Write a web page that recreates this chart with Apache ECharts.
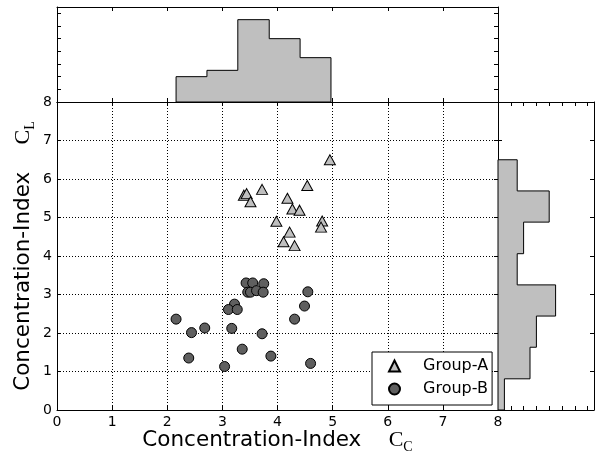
<!DOCTYPE html>
<html>
<head>
<meta charset="utf-8">
<script src="https://cdn.jsdelivr.net/npm/echarts@6/dist/echarts.min.js"></script>
<style>
  html, body { margin: 0; padding: 0; background: #fff; }
  #chart { width: 601px; height: 456px; }
</style>
</head>
<body>
<div id="chart"></div>
<script>
// scatter points [x, y]
const groupA = [
  [4.95, 6.50], [4.54, 5.83], [3.72, 5.73], [3.39, 5.58], [3.44, 5.62],
  [3.51, 5.41], [4.18, 5.50], [4.27, 5.22], [4.40, 5.19], [3.98, 4.90],
  [4.81, 4.91], [4.79, 4.75], [4.22, 4.62], [4.11, 4.37], [4.31, 4.27]
];
const groupB = [
  [3.43, 3.30], [3.55, 3.30], [3.75, 3.28], [3.46, 3.06], [3.51, 3.06],
  [3.62, 3.10], [3.74, 3.06], [4.55, 3.07], [4.49, 2.70], [4.31, 2.36],
  [4.60, 1.21], [3.88, 1.40], [3.72, 1.98], [3.36, 1.58], [3.04, 1.13],
  [3.17, 2.12], [3.22, 2.75], [3.11, 2.61], [3.27, 2.61], [2.68, 2.13],
  [2.44, 2.01], [2.16, 2.36], [2.39, 1.35]
];

// marginal histograms (bin edges + counts)
const topEdges = [2.16, 2.72, 3.28, 3.85, 4.41, 4.97];
const topCounts = [4, 5, 13, 10, 7];
const rightEdges = [0, 0.81, 1.63, 2.44, 3.25, 4.06, 4.88, 5.69, 6.50];
const rightCounts = [1, 5, 6, 9, 3, 4, 8, 3];

const seriesNames = ['Group-A', 'Group-B'];

// outline of a step histogram, in data coordinates
function stepOutline(edges, counts, horizontal) {
  const pts = [[edges[0], 0]];
  counts.forEach(function (c, i) {
    pts.push([edges[i], c]);
    pts.push([edges[i + 1], c]);
  });
  pts.push([edges[edges.length - 1], 0]);
  return horizontal ? pts.map(function (p) { return [p[1], p[0]]; }) : pts;
}

function histSeries(axisIdx, pts) {
  return {
    type: 'custom',
    xAxisIndex: axisIdx,
    yAxisIndex: axisIdx,
    data: [[0, 0]],
    silent: true,
    renderItem: function (params, api) {
      return {
        type: 'polygon',
        shape: { points: pts.map(function (p) { return api.coord(p); }) },
        style: { fill: '#bfbfbf', stroke: '#000', lineWidth: 1 }
      };
    }
  };
}

const FONT = 'DejaVu Sans';
const tickIn = { show: true, inside: true, length: 4, lineStyle: { color: '#000' } };
const line = { show: true, onZero: false, lineStyle: { color: '#000', width: 1 } };

function valAxis(grid, min, max, interval, pos, extra) {
  return Object.assign({
    type: 'value', gridIndex: grid, min: min, max: max, interval: interval,
    position: pos, axisLine: line, axisTick: tickIn,
    axisLabel: { show: false }, splitLine: { show: false }
  }, extra || {});
}

const nameRich = {
  m: { fontFamily: 'Liberation Serif', fontSize: 22, color: '#000', lineHeight: 28 },
  s: { fontFamily: 'Liberation Serif', fontSize: 14, color: '#000', lineHeight: 14, verticalAlign: 'bottom' }
};
const gridDots = { show: true, lineStyle: { color: '#000', type: [1, 2], width: 1 } };
const tickLabel = { show: true, color: '#000', fontFamily: FONT, fontSize: 14 };

const chart = echarts.init(document.getElementById('chart'));
chart.setOption({
  animation: false,
  backgroundColor: '#fff',
  grid: [
    { left: 57, top: 102, width: 441, height: 308, outerBoundsMode: 'none' },
    { left: 57, top: 7, width: 441, height: 95, outerBoundsMode: 'none' },
    { left: 498, top: 102, width: 96, height: 308, outerBoundsMode: 'none' }
  ],
  xAxis: [
    valAxis(0, 0, 8, 1, 'bottom', {
      axisLabel: Object.assign({ margin: 5 }, tickLabel),
      splitLine: gridDots,
      name: 'Concentration-Index    {m|C}{s|C}',
      nameLocation: 'middle', nameGap: 16, nameMoveOverlap: false,
      nameTextStyle: { fontFamily: FONT, fontSize: 21.5, color: '#000', rich: nameRich }
    }),
    valAxis(0, 0, 8, 1, 'top'),
    valAxis(1, 0, 8, 1, 'bottom'),
    valAxis(1, 0, 8, 1, 'top'),
    valAxis(2, 0, 15, 2, 'bottom'),
    valAxis(2, 0, 15, 2, 'top')
  ],
  yAxis: [
    valAxis(0, 0, 8, 1, 'left', {
      axisLabel: Object.assign({ margin: 5 }, tickLabel),
      splitLine: gridDots,
      name: 'Concentration-Index    {m|C}{s|L}',
      nameLocation: 'middle', nameGap: 20, nameMoveOverlap: false,
      nameTextStyle: { fontFamily: FONT, fontSize: 21.5, color: '#000', rich: nameRich }
    }),
    valAxis(0, 0, 8, 1, 'right'),
    valAxis(1, 0, 15, 2, 'left'),
    valAxis(1, 0, 15, 2, 'right'),
    valAxis(2, 0, 8, 1, 'left'),
    valAxis(2, 0, 8, 1, 'right')
  ],
  legend: {
    orient: 'vertical',
    left: 372, top: 352,
    padding: [6, 4, 8, 16],
    itemGap: 7,
    itemWidth: 11, itemHeight: 11,
    backgroundColor: '#fff',
    borderColor: '#000', borderWidth: 1, borderRadius: 0,
    textStyle: { fontFamily: FONT, fontSize: 16, color: '#000', padding: [0, 0, 0, 18] },
    data: seriesNames
  },
  series: [
    histSeries(2, stepOutline(topEdges, topCounts, false)),
    histSeries(4, stepOutline(rightEdges, rightCounts, true)),
    {
      name: seriesNames[0], type: 'scatter', xAxisIndex: 0, yAxisIndex: 0,
      symbol: 'triangle', symbolSize: [11, 10],
      itemStyle: { color: '#bfbfbf', borderColor: '#000', borderWidth: 1, opacity: 1 },
      data: groupA
    },
    {
      name: seriesNames[1], type: 'scatter', xAxisIndex: 0, yAxisIndex: 0,
      symbol: 'circle', symbolSize: 10,
      itemStyle: { color: '#5f5f5f', borderColor: '#000', borderWidth: 1, opacity: 1 },
      data: groupB
    }
  ]
});
</script>
</body>
</html>
